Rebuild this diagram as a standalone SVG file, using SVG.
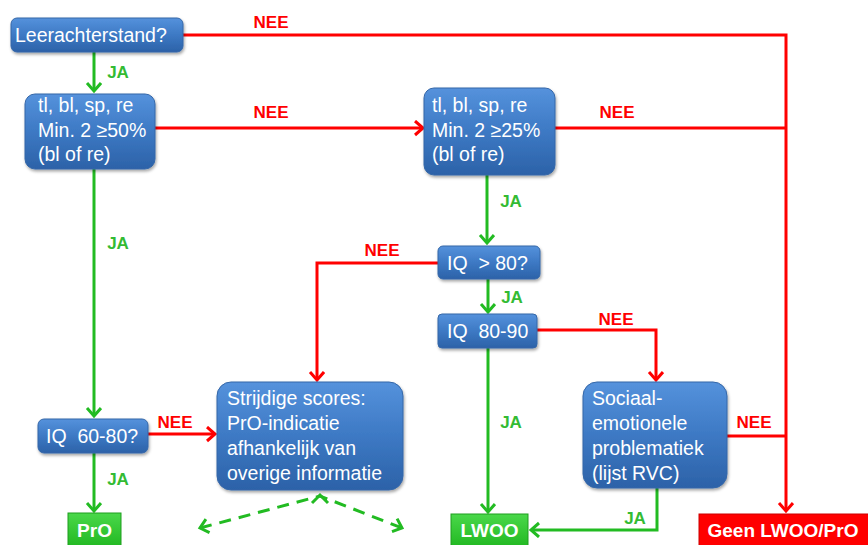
<svg xmlns="http://www.w3.org/2000/svg" width="868" height="545" viewBox="0 0 868 545">
<defs>
<linearGradient id="blue" x1="0" y1="0" x2="0" y2="1">
<stop offset="0" stop-color="#5592dc"/>
<stop offset="0.5" stop-color="#3d79c4"/>
<stop offset="1" stop-color="#2c62a8"/>
</linearGradient>
<linearGradient id="green" x1="0" y1="0" x2="0" y2="1">
<stop offset="0" stop-color="#4ad84a"/>
<stop offset="1" stop-color="#22b822"/>
</linearGradient>
<filter id="sh" x="-10%" y="-10%" width="125%" height="135%">
<feDropShadow dx="1" dy="2" stdDeviation="1.5" flood-color="#000" flood-opacity="0.35"/>
</filter>
<marker id="ar" markerUnits="userSpaceOnUse" markerWidth="16" markerHeight="18" refX="10" refY="8" orient="auto">
<path d="M2,1 L10,8 L2,15" fill="none" stroke="#ff0000" stroke-width="3"/>
</marker>
<marker id="ag" markerUnits="userSpaceOnUse" markerWidth="16" markerHeight="18" refX="10" refY="8" orient="auto">
<path d="M2,1 L10,8 L2,15" fill="none" stroke="#22bb22" stroke-width="3"/>
</marker>
<marker id="agd" markerUnits="userSpaceOnUse" markerWidth="16" markerHeight="18" refX="10" refY="8" orient="auto-start-reverse">
<path d="M2,1 L10,8 L2,15" fill="none" stroke="#22bb22" stroke-width="3"/>
</marker>
</defs>
<style>
.n{fill:url(#blue);stroke:#3567a8;stroke-width:1;filter:url(#sh)}
.t{font-family:"Liberation Sans",Arial,sans-serif;font-size:19.5px;fill:#ffffff;white-space:pre}
.r{fill:none;stroke:#ff0000;stroke-width:3}
.g{fill:none;stroke:#22bb22;stroke-width:3}
.d{fill:none;stroke:#22bb22;stroke-width:3;stroke-dasharray:12 8}
.ln{font-family:"Liberation Sans",Arial,sans-serif;font-size:17px;font-weight:bold;fill:#ff0000;text-anchor:middle}
.lj{font-family:"Liberation Sans",Arial,sans-serif;font-size:17px;font-weight:bold;fill:#33bb33;text-anchor:middle}
.b{font-family:"Liberation Sans",Arial,sans-serif;font-size:19px;font-weight:bold;fill:#ffffff;text-anchor:middle}
</style>
<g id="connectors">
<path class="r" d="M183,35 H786 V511" marker-end="url(#ar)"/>
<path class="r" d="M155,128 H423" marker-end="url(#ar)"/>
<path class="r" d="M555,128 H786"/>
<path class="r" d="M438,263 H317 V380" marker-end="url(#ar)"/>
<path class="r" d="M537,330 H656 V380" marker-end="url(#ar)"/>
<path class="r" d="M727,436 H786"/>
<path class="r" d="M148,434 H215" marker-end="url(#ar)"/>
<path class="g" d="M94,52 V91" marker-end="url(#ag)"/>
<path class="g" d="M94,169 V416" marker-end="url(#ag)"/>
<path class="g" d="M94,453 V511" marker-end="url(#ag)"/>
<path class="g" d="M487,175 V243" marker-end="url(#ag)"/>
<path class="g" d="M488,279 V312" marker-end="url(#ag)"/>
<path class="g" d="M488,348 V512" marker-end="url(#ag)"/>
<path class="g" d="M657,488 V530 H531" marker-end="url(#ag)"/>
<path class="d" d="M200,528 L320,496 L402,528" marker-start="url(#agd)" marker-end="url(#agd)"/>
<path class="g" d="M312,503 L320,495 L328,503"/>
<text class="ln" x="271" y="28">NEE</text>
<text class="ln" x="271" y="118">NEE</text>
<text class="ln" x="617" y="118">NEE</text>
<text class="ln" x="382" y="256">NEE</text>
<text class="ln" x="616" y="325">NEE</text>
<text class="ln" x="754" y="428">NEE</text>
<text class="ln" x="175" y="428">NEE</text>
<text class="lj" x="118" y="78">JA</text>
<text class="lj" x="118" y="249">JA</text>
<text class="lj" x="118" y="485">JA</text>
<text class="lj" x="511" y="207">JA</text>
<text class="lj" x="512" y="303">JA</text>
<text class="lj" x="511" y="428">JA</text>
<text class="lj" x="635" y="524">JA</text>
</g>
<g id="leerachterstand">
<rect class="n" x="11" y="18" width="172" height="34" rx="6"/>
<text class="t" x="15" y="42">Leerachterstand?</text>
</g>
<g id="min50">
<rect class="n" x="25" y="94" width="130" height="75" rx="10"/>
<text class="t" x="38" y="112">tl, bl, sp, re</text>
<text class="t" x="38" y="137">Min. 2 ≥50%</text>
<text class="t" x="38" y="161">(bl of re)</text>
</g>
<g id="min25">
<rect class="n" x="424" y="88" width="131" height="87" rx="10"/>
<text class="t" x="432" y="112">tl, bl, sp, re</text>
<text class="t" x="432" y="137">Min. 2 ≥25%</text>
<text class="t" x="432" y="161">(bl of re)</text>
</g>
<g id="iq80">
<rect class="n" x="438" y="246" width="102" height="33" rx="5"/>
<text class="t" x="447" y="270">IQ  &gt; 80?</text>
</g>
<g id="iq8090">
<rect class="n" x="438" y="314" width="99" height="34" rx="4"/>
<text class="t" x="447" y="338">IQ  80-90</text>
</g>
<g id="iq6080">
<rect class="n" x="38" y="419" width="110" height="34" rx="6"/>
<text class="t" x="46" y="443">IQ  60-80?</text>
</g>
<g id="strijdig">
<rect class="n" x="217" y="382" width="186" height="108" rx="14"/>
<text class="t" x="227" y="405">Strijdige scores:</text>
<text class="t" x="227" y="430">PrO-indicatie</text>
<text class="t" x="227" y="455">afhankelijk van</text>
<text class="t" x="227" y="480">overige informatie</text>
</g>
<g id="sociaal">
<rect class="n" x="583" y="382" width="144" height="106" rx="14"/>
<text class="t" x="592" y="405">Sociaal-</text>
<text class="t" x="592" y="430">emotionele</text>
<text class="t" x="592" y="455">problematiek</text>
<text class="t" x="592" y="480">(lijst RVC)</text>
</g>
<g id="pro">
<rect x="68" y="513" width="53" height="34" fill="url(#green)" stroke="#1e9e1e" stroke-width="1"/>
<text class="b" x="94.5" y="537">PrO</text>
</g>
<g id="lwoo">
<rect x="451" y="514" width="77" height="33" fill="url(#green)" stroke="#1e9e1e" stroke-width="1"/>
<text class="b" x="489.5" y="537">LWOO</text>
</g>
<g id="geen">
<rect x="699" y="514" width="171" height="33" fill="#ff0000" stroke="#cc0000" stroke-width="1"/>
<text class="b" x="783" y="537">Geen LWOO/PrO</text>
</g>
</svg>
